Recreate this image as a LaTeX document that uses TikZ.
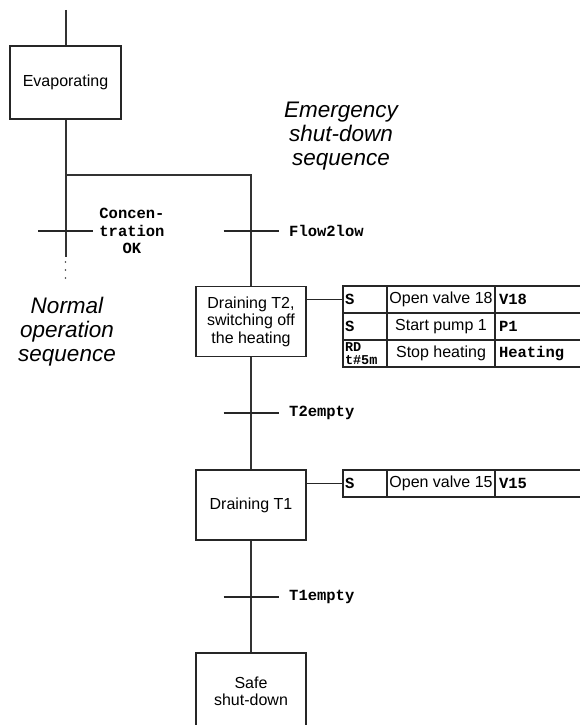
\documentclass[tikz,border=0pt]{standalone}
\usepackage{fontspec}
\setmainfont{Liberation Sans}
\setmonofont{Liberation Mono}
\usetikzlibrary{calc}
\begin{document}
\begin{tikzpicture}[x=1pt,y=-1pt,
  flow/.style={draw=black!80, line width=2pt},
  stepbox/.style={draw=black!85, line width=1.3pt, minimum width=110pt, minimum height=70pt,
    align=center, inner sep=0pt, font=\fontsize{16}{17.5}\selectfont},
  trans/.style={draw=black!85, line width=1.2pt},
  tlabel/.style={font=\fontsize{15.5}{17.5}\selectfont\ttfamily\bfseries, align=center, inner sep=0pt},
  seqlabel/.style={font=\fontsize{22.5}{24}\selectfont\itshape, align=center, inner sep=0pt},
  link/.style={draw=black!85, line width=1.3pt},
  cell/.style={draw=black!85, line width=1.1pt, minimum height=27pt, inner ysep=0pt},
  ca/.style={cell, inner xsep=2pt, text width=40pt, align=left, font=\fontsize{15.5}{17.5}\selectfont\ttfamily\bfseries},
  cb/.style={cell, inner xsep=0pt, minimum width=108pt, align=center, font=\fontsize{16}{17.5}\selectfont},
  cc/.style={cell, inner xsep=4pt, text width=97pt, align=left, font=\fontsize{15.5}{17.5}\selectfont\ttfamily\bfseries},
]
\useasboundingbox (0,0) rectangle (580,725);
\clip (0,0) rectangle (580,725);

% steps
\coordinate (top) at (65.5,10);
\node[stepbox, minimum width=111pt, minimum height=73pt] (evap) at (65.5,82.5) {Evaporating};
\node[stepbox] (d2) at (251,321.5) {Draining T2,\\switching off\\the heating};
\node[stepbox] (d1) at (251,505) {Draining T1};
\node[stepbox, minimum height=77pt] (safe) at (251,691.5) {Safe\\shut-down};

% branch points
\coordinate (branch) at (65.5,175);
\coordinate (rbranch) at (251,175);
\coordinate (lend) at (65.5,257);

% flow lines
\draw[flow] (top) -- (evap.north);
\draw[flow] (evap.south) -- (lend);
\draw[flow] (branch) -- (rbranch) -- (d2.north);
\draw[flow] (d2.south) -- (d1.north);
\draw[flow] (d1.south) -- (safe.north);

% dots
\foreach \yy in {262,270,278} \fill[black!75] (65.5,\yy) circle (0.9pt);

% transitions
\coordinate (tc) at (65.5,231);
\coordinate (tf) at (251,231);
\coordinate (tt2) at (251,413);
\coordinate (tt1) at (251,597);
\foreach \t in {tc,tf,tt2,tt1}
  \draw[trans] ($(\t)+(-27.5,0)$) -- ($(\t)+(27.5,0)$);

\node[tlabel] (lc) at (132,231) {Concen-\\tration\\OK};
\node[tlabel, anchor=west] (lf) at (289,231) {Flow2low};
\node[tlabel, anchor=west] (lt2) at (289,413) {T2empty};
\node[tlabel, anchor=west] (lt1) at (289,597) {T1empty};

% sequence labels
\node[seqlabel] (emg) at (341,136) {Emergency\\shut-down\\sequence};
\node[seqlabel] (norm) at (67,332) {Normal\\operation\\sequence};

% action table for Draining T2
\node[ca] (a11) at (365,299.5) {S};
\node[cb] (a12) at (441,299.5) {Open valve 18};
\node[cc] (a13) at (547.5,299.5) {V18};
\node[ca] (a21) at (365,326.5) {S};
\node[cb] (a22) at (441,326.5) {Start pump 1};
\node[cc] (a23) at (547.5,326.5) {P1};
\node[ca, font=\fontsize{13.5}{12.5}\selectfont\ttfamily\bfseries] (a31) at (365,353.5) {RD\\t\#5m};
\node[cb] (a32) at (441,353.5) {Stop heating};
\node[cc] (a33) at (547.5,353.5) {Heating};
\draw[link] (a11.west) -- (a11.west -| d2.east);

% action table for Draining T1
\node[ca] (b11) at (365,483.5) {S};
\node[cb] (b12) at (441,483.5) {Open valve 15};
\node[cc] (b13) at (547.5,483.5) {V15};
\draw[link] (b11.west) -- (b11.west -| d1.east);
\end{tikzpicture}
\end{document}
